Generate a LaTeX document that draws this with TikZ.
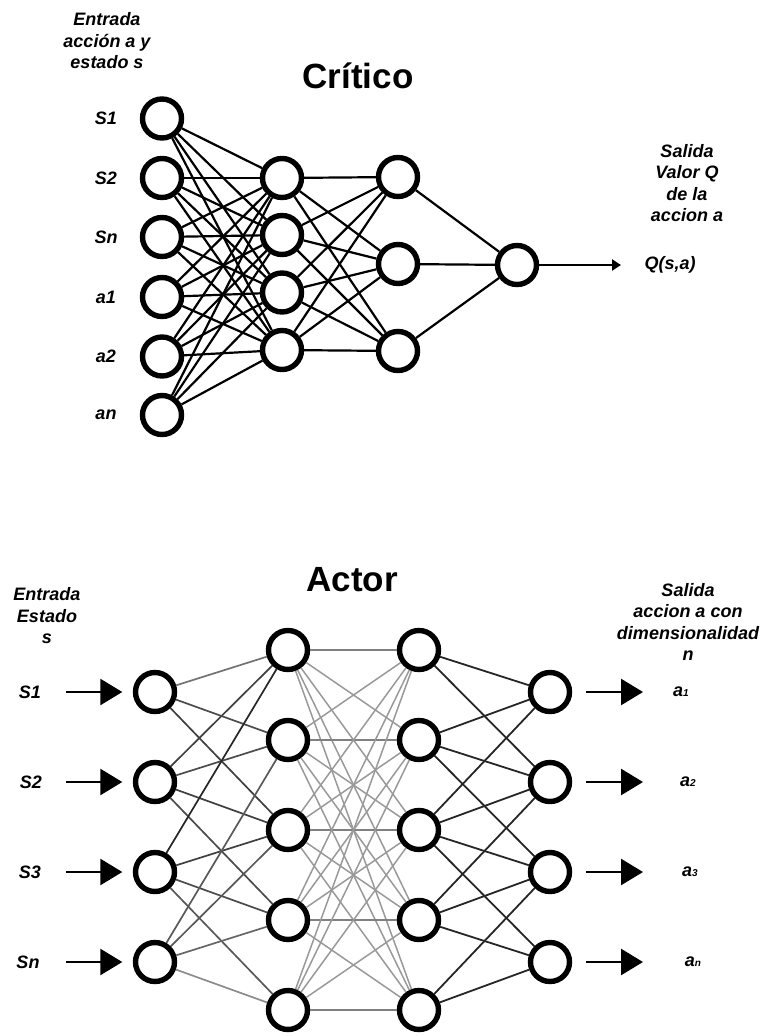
\documentclass[tikz,border=0pt]{standalone}
\usepackage{fontspec}
\setmainfont{Liberation Sans}
\usetikzlibrary{arrows.meta}

\begin{document}
\begin{tikzpicture}[x=1pt,y=-1pt,
  neuron/.style={circle,draw=black,fill=white,line width=5.4pt,minimum size=39pt,inner sep=0pt},
  lbl/.style={font=\fontsize{18}{21.5}\selectfont\bfseries\itshape,align=center,inner sep=0pt},
  ttl/.style={font=\fontsize{35}{40}\selectfont\bfseries,inner sep=0pt},
  clink/.style={line width=2.2pt,black},
  qarrow/.style={line width=2.6pt,-{Triangle[length=9pt,width=11pt]}},
  bigarrow/.style={line width=2.6pt,-{Triangle[length=22pt,width=26pt]}},
  inlink/.style={line width=1.7pt,draw=black!#1},
  midlink/.style={line width=1.5pt,draw=black!#1},
  outlink/.style={line width=1.8pt,draw=black!85}
]
\useasboundingbox (0,0) rectangle (763,1036);

% ---------------- Critic network ----------------
\node[ttl] (ctitle) at (358,76) {Crítico};
\node[lbl] (cin) at (107,41) {Entrada\\acción a y\\estado s};
\node[lbl] (cout) at (687,183) {Salida\\Valor Q\\de la\\accion a};

\foreach \i/\y in {1/118.5,2/178,3/237,4/297,5/356.5,6/415}
  \node[neuron] (ci\i) at (162,\y) {};
\foreach \j/\y in {1/178,2/235,3/292.5,4/350}
  \node[neuron] (ch\j) at (282,\y) {};
\foreach \k/\y in {1/177,2/264,3/351}
  \node[neuron] (cg\k) at (398,\y) {};
\node[neuron] (co) at (517,265) {};

\foreach \i in {1,...,6}
  \foreach \j in {1,...,4}
    \draw[clink] (ci\i) -- (ch\j);
\foreach \j in {1,...,4}
  \foreach \k in {1,...,3}
    \draw[clink] (ch\j) -- (cg\k);
\foreach \k in {1,...,3}
  \draw[clink] (cg\k) -- (co);

\coordinate (qend) at (621,265);
\draw[qarrow] (co) -- (qend);
\node[lbl] (qlbl) at (670,265) {Q(s,a)};

\node[lbl] (lc1) at (106,118.5) {S1};
\node[lbl] (lc2) at (106,178) {S2};
\node[lbl] (lc3) at (106,237) {Sn};
\node[lbl] (lc4) at (106,297) {a1};
\node[lbl] (lc5) at (106,356.5) {a2};
\node[lbl] (lc6) at (106,415) {an};

% ---------------- Actor network ----------------
\node[ttl] (atitle) at (352,580) {Actor};
\node[lbl] (ain) at (47,616) {Entrada\\Estado\\s};
\node[lbl] (aout) at (688,622) {Salida\\accion a con\\dimensionalidad\\n};

\foreach \i/\y in {1/692,2/782,3/872,4/962} {
  \node[neuron] (ai\i) at (155,\y) {};
  \node[neuron] (ao\i) at (550,\y) {};
}
\foreach \j/\y in {1/650,2/740,3/830,4/920,5/1010} {
  \node[neuron] (ah\j) at (288,\y) {};
  \node[neuron] (ag\j) at (419,\y) {};
}

% input layer -> first hidden layer (partial connections)
\foreach \i/\j/\c in {1/1/55,1/2/70,1/3/75,
                      2/1/75,2/2/70,2/3/75,2/4/70,
                      3/1/85,3/3/75,3/4/70,3/5/65,
                      4/2/65,4/3/65,4/4/60,4/5/45}
  \draw[inlink=\c] (ai\i) -- (ah\j);

% first hidden layer -> second hidden layer (full)
\foreach \j in {1,...,5}
  \foreach \k in {1,...,5} {
    \ifnum\j=\k
      \draw[midlink=50] (ah\j) -- (ag\k);
    \else
      \draw[midlink=40] (ah\j) -- (ag\k);
    \fi
  }

% second hidden layer -> outputs
\foreach \k/\o in {1/1,1/2,2/1,2/2,2/3,3/1,3/2,3/3,3/4,4/2,4/3,4/4,5/3,5/4}
  \draw[outlink] (ag\k) -- (ao\o);

% input and output arrows
\foreach \i/\y in {1/692,2/782,3/872,4/962} {
  \coordinate (as\i) at (66,\y);
  \draw[bigarrow,shorten >=10.5pt] (as\i) -- (ai\i);
  \coordinate (ae\i) at (643,\y);
  \draw[bigarrow,shorten <=14pt] (ao\i) -- (ae\i);
}

\node[lbl] (la1) at (30,692) {S1};
\node[lbl] (la2) at (31,782) {S2};
\node[lbl] (la3) at (30,872) {S3};
\node[lbl] (la4) at (28,962) {Sn};

\node[lbl] (lo1) at (681,692) {a{\fontsize{10}{10}\selectfont 1}};
\node[lbl] (lo2) at (688,782) {a{\fontsize{10}{10}\selectfont 2}};
\node[lbl] (lo3) at (690,872) {a{\fontsize{10}{10}\selectfont 3}};
\node[lbl] (lo4) at (693,962) {a{\fontsize{10}{10}\selectfont n}};
\end{tikzpicture}
\end{document}
